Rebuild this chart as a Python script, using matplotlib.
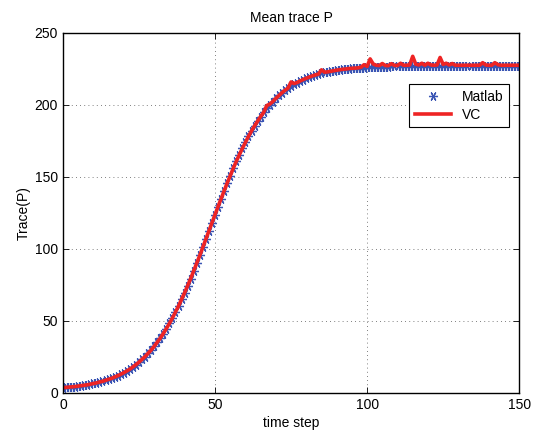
import numpy as np
import matplotlib
matplotlib.use('Agg')
import matplotlib.pyplot as plt

plt.rcParams['font.family'] = ['Liberation Sans', 'DejaVu Sans']

# time steps 0..150
steps = np.arange(0, 151)

# mean trace of P from the Matlab run
matlab = [
    3.7, 3.9, 4.1, 4.3, 4.5, 4.8, 5.1, 5.4, 5.7, 6.1,
    6.6, 7.0, 7.6, 8.1, 8.8, 9.5, 10.2, 11.1, 12.0, 13.0,
    14.1, 15.3, 16.6, 18.1, 19.7, 21.4, 23.3, 25.3, 27.5, 29.8,
    32.4, 35.2, 38.1, 41.3, 44.7, 48.3, 52.1, 56.2, 60.4, 65.0,
    69.6, 74.5, 79.5, 84.8, 90.1, 95.6, 101.2, 106.8, 112.5, 118.2,
    123.9, 129.5, 135.0, 140.5, 145.8, 151.0, 156.0, 160.9, 165.5, 169.9,
    174.1, 178.2, 182.0, 185.5, 188.8, 192.0, 194.9, 197.6, 200.1, 202.4,
    204.6, 206.6, 208.5, 210.2, 211.7, 213.1, 214.4, 215.6, 216.7, 217.7,
    218.6, 219.4, 220.2, 220.9, 221.5, 222.0, 222.6, 223.0, 223.4, 223.8,
    224.2, 224.5, 224.8, 225.0, 225.3, 225.5, 225.6, 225.8, 225.9, 226.0,
    226.1, 226.2, 226.3, 226.4, 226.5, 226.6, 226.7, 226.7, 226.8, 226.9,
    226.9, 227.0, 227.0, 227.0, 227.1, 227.1, 227.1, 227.2, 227.2, 227.2,
    227.2, 227.3, 227.3, 227.3, 227.3, 227.3, 227.3, 227.3, 227.4, 227.4,
    227.4, 227.4, 227.4, 227.4, 227.4, 227.4, 227.4, 227.4, 227.4, 227.4,
    227.4, 227.4, 227.4, 227.4, 227.4, 227.4, 227.4, 227.4, 227.4, 227.4,
    227.4,
]

# same quantity from the VC implementation
vc = [
    3.7, 3.9, 4.1, 4.3, 4.5, 4.8, 5.1, 5.4, 5.7, 6.1,
    6.6, 7.0, 7.6, 8.1, 8.8, 9.5, 10.2, 11.1, 12.0, 13.0,
    14.1, 15.3, 16.6, 18.1, 19.7, 21.4, 23.3, 25.3, 27.5, 29.8,
    32.4, 35.2, 38.1, 41.3, 44.7, 48.3, 52.1, 56.2, 60.4, 65.0,
    69.6, 74.5, 79.5, 84.8, 90.1, 95.6, 101.2, 106.8, 112.5, 118.2,
    123.9, 129.5, 135.0, 140.5, 145.8, 151.0, 156.0, 160.9, 165.5, 169.9,
    174.1, 178.2, 182.0, 185.5, 188.8, 192.0, 194.9, 199.6, 200.6, 202.4,
    204.6, 206.6, 208.5, 210.2, 211.7, 216.0, 214.9, 215.6, 216.7, 217.7,
    218.6, 219.4, 220.2, 220.9, 221.5, 224.4, 222.8, 223.0, 223.4, 223.8,
    224.2, 224.5, 224.8, 225.0, 225.3, 225.5, 225.6, 225.8, 226.2, 228.0,
    226.8, 232.0, 228.5, 227.6, 227.4, 228.8, 227.4, 227.3, 228.7, 227.5,
    227.4, 229.0, 227.6, 227.6, 227.8, 233.8, 228.3, 227.8, 229.0, 227.6,
    229.0, 227.8, 227.6, 227.8, 233.0, 228.2, 229.0, 227.8, 228.8, 227.6,
    227.6, 227.6, 227.6, 227.6, 227.6, 227.6, 227.6, 227.6, 229.4, 227.8,
    227.6, 227.6, 229.4, 228.0, 227.6, 227.6, 227.6, 227.6, 227.6, 227.6,
    227.6,
]

fig = plt.figure(figsize=(5.38, 4.33), dpi=100)
ax = fig.add_axes([0.117, 0.0924, 0.848, 0.8314])

# matlab-style asterisk markers
ax.plot(steps, matlab, linestyle='none', marker=(6, 2, 90), markersize=6.5,
        color='#3a55b4', markeredgewidth=0.9, label='Matlab')
ax.plot(steps, vc, color='#ee2424', linewidth=2.6, label='VC')

ax.set_xlim(0, 150)
ax.set_ylim(0, 250)
ax.set_xticks([0, 50, 100, 150])
ax.set_yticks([0, 50, 100, 150, 200, 250])
ax.tick_params(direction='in', top=True, right=True, labelsize=10, length=4, width=0.6)
for s in ax.spines.values():
    s.set_linewidth(1.0)
ax.grid(True, linestyle=(0, (1, 4)), color='#555555', linewidth=0.6)

ax.set_title('Mean trace P', fontsize=10, pad=8)
ax.set_xlabel('time step', fontsize=10, labelpad=3)
ax.set_ylabel('Trace(P)', fontsize=10, labelpad=3)

leg = ax.legend(loc='upper right', bbox_to_anchor=(0.993, 0.877), fontsize=10,
                fancybox=False, framealpha=1, edgecolor='black',
                handlelength=2.6, borderpad=0.4, labelspacing=0.3)
leg.get_frame().set_linewidth(0.8)

fig.savefig('out.png', dpi=100)
